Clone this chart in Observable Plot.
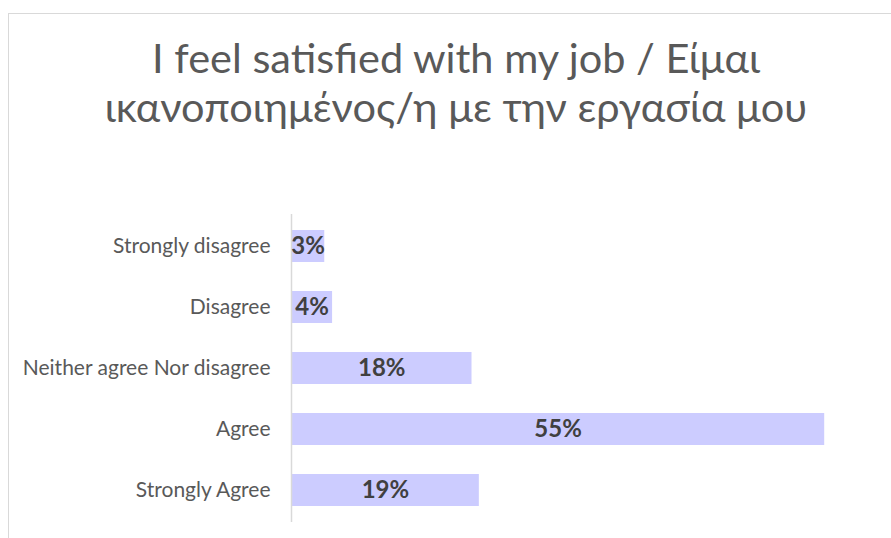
<!DOCTYPE html>
<html><head><meta charset="utf-8">
<script src="https://cdn.jsdelivr.net/npm/d3@7"></script>
<script src="https://cdn.jsdelivr.net/npm/@observablehq/plot@0.6"></script>
<style>
html,body{margin:0;padding:0;background:#fff;overflow:hidden;width:891px;height:538px;}
#frame{position:absolute;left:8px;top:13px;width:900px;height:600px;border-top:1px solid #d9d9d9;border-left:1px solid #d9d9d9;}
#title{position:absolute;left:8px;width:896px;top:33px;text-align:center;font-family:Lato,"Open Sans",sans-serif;font-size:41.5px;line-height:49px;color:#595959;}
#chart{position:absolute;left:0;top:190px;}
</style></head><body>
<div id="frame"></div>
<div id="title">I feel satisfied with my job / Είμαι<br>ικανοποιημένος/η με την εργασία μου</div>
<div id="chart"></div>
<script>
const categories = ["Strongly disagree", "Disagree", "Neither agree Nor disagree", "Agree", "Strongly Agree"];
const values = [3.4, 4.2, 18.45, 54.5, 19.2];
const labels = values.map(v => Math.round(v) + "%");
const data = categories.map((c, i) => ({category: c, value: values[i], label: labels[i]}));

const chart = Plot.plot({
  width: 891,
  height: 348,
  marginTop: 24,
  marginBottom: 16,
  marginLeft: 291,
  marginRight: 13,
  style: {fontFamily: "Lato, 'Open Sans', sans-serif", fontSize: "21px", color: "#595959", background: "transparent"},
  x: {domain: [0, 60], axis: null},
  y: {domain: categories, paddingInner: 0.48, paddingOuter: 0.24, label: null},
  marks: [
    Plot.barX(data, {x: "value", y: "category", fill: "#ccccff"}),
    Plot.ruleX([0], {stroke: "#d9d9d9", strokeWidth: 1.5}),
    Plot.axisY({tickSize: 0, tickPadding: 21, label: null}),
    Plot.text(data, {x: d => d.value / 2, y: "category", text: "label", fill: "#404040", fontWeight: "bold", fontSize: 24})
  ]
});
document.getElementById("chart").appendChild(chart);
</script>
</body></html>
